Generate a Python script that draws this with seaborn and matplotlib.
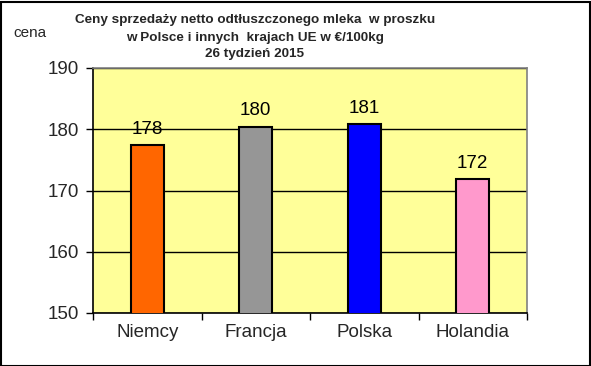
import matplotlib
matplotlib.use("Agg")
import matplotlib.pyplot as plt
import seaborn as sns
import pandas as pd
from matplotlib.patches import Rectangle

categories = ["Niemcy", "Francja", "Polska", "Holandia"]
values = [177.4, 180.4, 180.8, 171.9]
labels = ["178", "180", "181", "172"]
colors = ["#FF6600", "#969696", "#0000FF", "#FF99CC"]
yticks = [150, 160, 170, 180, 190]

sns.set_theme(style="white")
plt.rcParams['font.family'] = ['Liberation Sans', 'DejaVu Sans']

df = pd.DataFrame({"kraj": categories, "cena": values})

fig = plt.figure(figsize=(5.91, 3.66), dpi=100)
ax = fig.add_axes([93/591, 1-313/366, 434/591, 245/366])
ax.set_facecolor("#FFFF99")

sns.barplot(data=df, x="kraj", y="cena", hue="kraj", palette=colors,
            width=0.3, edgecolor="black", linewidth=1.5, ax=ax,
            legend=False, zorder=3, saturation=1)

ax.set_ylim(150, 190)
ax.set_xlim(-0.5, 3.5)
ax.set_yticks(yticks)
ax.set_yticklabels([str(t) for t in yticks], fontsize=13.5)
ax.yaxis.grid(True, color="black", linewidth=1)
ax.set_axisbelow(True)
for s in ax.spines.values():
    s.set_color("#808080")
    s.set_linewidth(1.2)
ax.spines["left"].set_color("black")
ax.spines["bottom"].set_color("black")
ax.set_xlabel("")
ax.set_ylabel("")
ax.set_xticks(range(len(categories)))
ax.set_xticklabels(categories, fontsize=13.5)
ax.tick_params(axis="x", length=0, pad=8)
ax.set_xticks([-0.5, 0.5, 1.5, 2.5, 3.5], minor=True)
ax.tick_params(axis="x", which="minor", length=5, color="black", width=1, bottom=True)
ax.tick_params(axis="y", length=5, color="black", width=1, left=True, pad=5)

for i, (v, lab) in enumerate(zip(values, labels)):
    ax.text(i, v + 1.2, lab, ha="center", va="bottom", fontsize=13.5, color="black")

tx = 255/591
fig.text(tx, 1-20/366, "Ceny sprzedaży netto odtłuszczonego mleka  w proszku", ha="center", va="center",
         fontsize=9.7, fontweight="bold")
fig.text(tx, 1-38/366, "w Polsce i innych  krajach UE w €/100kg", ha="center", va="center",
         fontsize=9.7, fontweight="bold")
fig.text(tx, 1-54/366, "26 tydzień 2015", ha="center", va="center",
         fontsize=9.7, fontweight="bold")
fig.text(13/591, 1-33/366, "cena", ha="left", va="center", fontsize=11)

fig.patches.append(Rectangle((0.5/591, 0.5/366), 1-2/591, 1-2/366, transform=fig.transFigure,
                             fill=False, edgecolor="black", linewidth=1.5))

fig.savefig("out.png", dpi=100)
